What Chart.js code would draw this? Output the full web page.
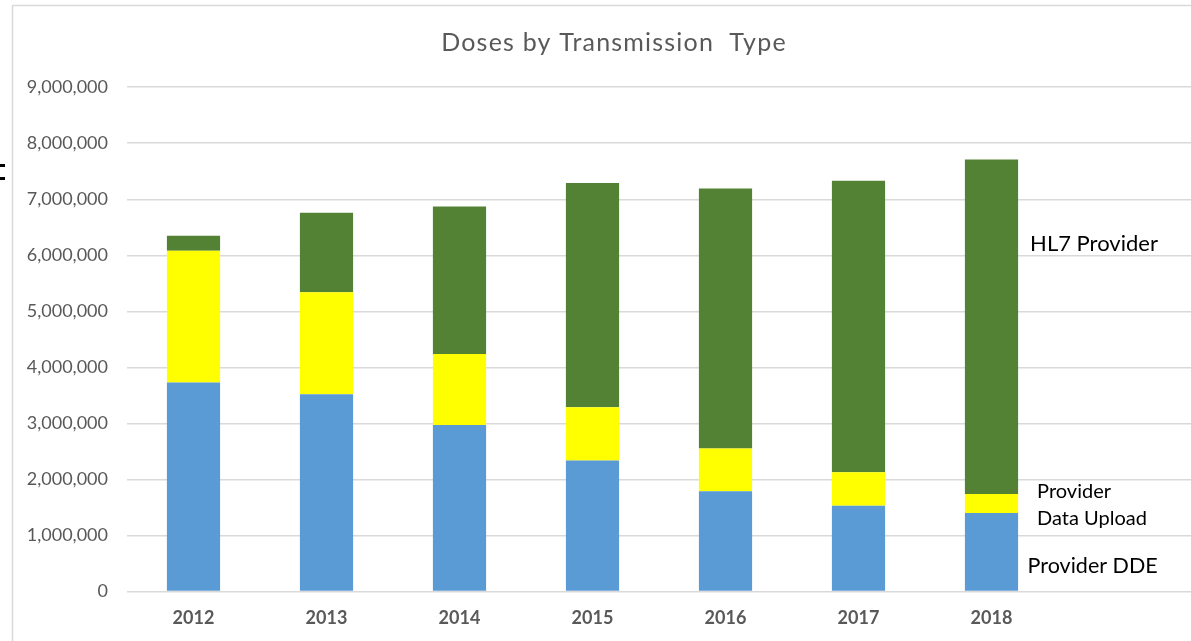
<!DOCTYPE html>
<html>
<head>
<meta charset="utf-8">
<script src="https://cdn.jsdelivr.net/npm/chart.js@4/dist/chart.umd.min.js"></script>
<style>
  html, body { margin: 0; padding: 0; background: #fff; }
  canvas { display: block; }
</style>
</head>
<body>
<canvas id="myChart" width="1191" height="641"></canvas>
<script>
// data (doses)
var years = ["2012", "2013", "2014", "2015", "2016", "2017", "2018", ""];
var providerDDE = [3730000, 3520000, 2970000, 2340000, 1790000, 1530000, 1400000, null];
var dataUpload = [2350000, 1820000, 1270000, 950000, 760000, 600000, 340000, null];
var hl7Provider = [270000, 1420000, 2630000, 4000000, 4640000, 5200000, 5970000, null];
var yTicks = [0, 1000000, 2000000, 3000000, 4000000, 5000000, 6000000, 7000000, 8000000, 9000000];

var font = "Lato";

// frame, title + labels next to the last bar
var extras = {
    id: 'extras',
    beforeDraw: function(chart) {
        var c = chart.ctx;
        c.save();
        c.fillStyle = '#fff';
        c.fillRect(0, 0, chart.width, chart.height);
        c.strokeStyle = '#d9d9d9';
        c.lineWidth = 1.5;
        c.strokeRect(12.5, 5.5, 1300, 800);
        // bits of a cut-off glyph at the left edge
        c.fillStyle = '#000';
        c.fillRect(0, 164, 5, 3);
        c.fillRect(0, 177, 5, 3);
        c.restore();
    },
    afterDraw: function(chart) {
        var c = chart.ctx;
        var y = chart.scales.y;
        var bar = chart.getDatasetMeta(2).data[6];
        var right = bar.x + bar.width / 2;
        c.save();
        // title
        c.fillStyle = '#595959';
        c.font = '25px ' + font;
        c.letterSpacing = '1.2px';
        c.textAlign = 'center';
        c.textBaseline = 'middle';
        c.fillText('Doses by Transmission  Type', 614, 43);
        c.letterSpacing = '0px';
        // series labels
        c.fillStyle = '#000';
        c.textBaseline = 'alphabetic';
        c.textAlign = 'left';
        c.font = '22px ' + font;
        c.fillText('HL7 Provider', right + 12, y.getPixelForValue(6070000));
        c.font = '20px ' + font;
        c.fillText('Provider', right + 19, y.getPixelForValue(1660000));
        c.fillText('Data Upload', right + 19, y.getPixelForValue(1190000));
        c.font = '21.5px ' + font;
        c.fillText('Provider DDE', right + 9.5, y.getPixelForValue(325000));
        c.restore();
    }
};

var ctx = document.getElementById('myChart').getContext('2d');

var chart = new Chart(ctx, {
    type: 'bar',
    data: {
        labels: years,
        datasets: [{
            label: "Provider DDE",
            backgroundColor: '#5B9BD5',
            data: providerDDE
        },
        {
            label: "Provider Data Upload",
            backgroundColor: '#FFFF00',
            data: dataUpload
        },
        {
            label: "HL7 Provider",
            backgroundColor: '#548235',
            data: hl7Provider
        }]
    },
    options: {
        responsive: false,
        animation: false,
        devicePixelRatio: 1,
        layout: { padding: { left: 0, right: 0, top: 87.2, bottom: 14.5 } },
        datasets: { bar: { barPercentage: 1, categoryPercentage: 0.4 } },
        plugins: {
            legend: { display: false },
            tooltip: { enabled: false },
            title: { display: false }
        },
        scales: {
            x: {
                stacked: true,
                afterFit: function(scale) { scale.height = 35; },
                grid: { display: false, drawTicks: false },
                border: { display: false },
                ticks: {
                    color: '#595959',
                    padding: 16,
                    maxRotation: 0,
                    autoSkip: false,
                    font: { family: font, size: 18, weight: 'bold' }
                }
            },
            y: {
                stacked: true,
                min: 0,
                max: 9000000,
                afterFit: function(scale) { scale.width = 127; },
                afterBuildTicks: function(scale) {
                    scale.ticks = yTicks.map(function(v) { return { value: v }; });
                },
                grid: { color: '#d9d9d9', lineWidth: 1.5, drawTicks: false },
                border: { display: false },
                ticks: {
                    color: '#595959',
                    padding: 19,
                    font: { family: font, size: 18 },
                    callback: function(v) { return v.toLocaleString('en-US'); }
                }
            }
        }
    },
    plugins: [extras]
});
</script>
</body>
</html>
